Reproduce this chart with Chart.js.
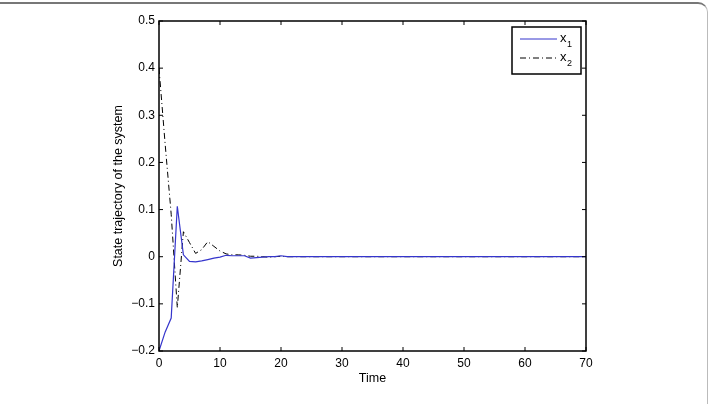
<!DOCTYPE html>
<html>
<head>
<meta charset="utf-8">
<script src="https://cdn.jsdelivr.net/npm/chart.js@4"></script>
<style>
  html, body { margin: 0; padding: 0; background: #fff; }
  #wrap { position: relative; width: 711px; height: 404px; }
  #frame { position: absolute; left: -4px; top: 2px; width: 712px; height: 420px;
           border-top: 2px solid #777; border-right: 1px solid #bbb;
           border-top-right-radius: 10px; box-sizing: border-box; pointer-events: none; }
</style>
</head>
<body>
<div id="wrap">
  <canvas id="myChart" width="711" height="404"></canvas>
  <div id="frame"></div>
</div>
<script>
const times = [0, 1, 2, 3, 4, 5, 6, 7, 8, 9, 10, 11, 12, 13, 14, 15, 16, 17, 18, 19, 20, 21, 25, 30, 35, 40, 45, 50, 55, 60, 65, 70];
const x1 = [-0.2, -0.16, -0.13, 0.107, 0.004, -0.01, -0.011, -0.009, -0.006, -0.003, -0.001, 0.003, 0.002, 0.002, 0.002, -0.003, -0.002, -0.001, 0, 0, 0.002, 0, 0, 0, 0, 0, 0, 0, 0, 0, 0, 0];
const x2 = [0.4, 0.24, 0.09, -0.108, 0.053, 0.03, 0.007, 0.015, 0.032, 0.022, 0.012, 0.006, 0.004, 0.004, 0.003, 0.001, 0.001, 0, -0.001, 0, 0.001, 0, 0, 0, 0, 0, 0, 0, 0, 0, 0, 0];
const seriesNames = ["x1", "x2"];
const xTicks = [0, 10, 20, 30, 40, 50, 60, 70];
const yTicks = [-0.2, -0.1, 0, 0.1, 0.2, 0.3, 0.4, 0.5];

const FONT = "'Liberation Sans', Arial, Helvetica, sans-serif";

function toPoints(vals) {
  return times.map((t, i) => ({ x: t, y: vals[i] }));
}

// matlab style box, inward ticks and legend
const matlabBox = {
  id: "matlabBox",
  afterDraw(chart) {
    const ctx = chart.ctx;
    const a = chart.chartArea;
    const xs = chart.scales.x, ys = chart.scales.y;
    ctx.save();
    ctx.strokeStyle = "#000";
    ctx.lineWidth = 1.5;
    ctx.strokeRect(a.left, a.top, a.right - a.left, a.bottom - a.top);
    ctx.lineWidth = 1;
    const tl = 4;
    ctx.beginPath();
    xTicks.forEach(v => {
      const p = xs.getPixelForValue(v);
      ctx.moveTo(p, a.bottom); ctx.lineTo(p, a.bottom - tl);
      ctx.moveTo(p, a.top); ctx.lineTo(p, a.top + tl);
    });
    yTicks.forEach(v => {
      const p = ys.getPixelForValue(v);
      ctx.moveTo(a.left, p); ctx.lineTo(a.left + tl, p);
      ctx.moveTo(a.right, p); ctx.lineTo(a.right - tl, p);
    });
    ctx.stroke();

    // legend
    const lx = 512, ly = 27, lw = 69, lh = 47;
    ctx.fillStyle = "#fff";
    ctx.fillRect(lx, ly, lw, lh);
    ctx.lineWidth = 1.5;
    ctx.strokeStyle = "#000";
    ctx.strokeRect(lx, ly, lw, lh);
    chart.data.datasets.forEach((ds, i) => {
      const y = ly + 12 + i * 19;
      ctx.beginPath();
      ctx.strokeStyle = ds.borderColor;
      ctx.lineWidth = 1;
      ctx.setLineDash(ds.borderDash || []);
      ctx.moveTo(lx + 8, y); ctx.lineTo(lx + 45, y);
      ctx.stroke();
      ctx.setLineDash([]);
      ctx.fillStyle = "#000";
      ctx.textBaseline = "alphabetic";
      ctx.textAlign = "left";
      ctx.font = "13px " + FONT;
      ctx.fillText(ds.label.charAt(0), lx + 48, y + 3);
      ctx.font = "9px " + FONT;
      ctx.fillText(ds.label.slice(1), lx + 55, y + 8);
    });
    ctx.restore();
  }
};

const config = {
  type: "line",
  data: {
    datasets: [
      {
        label: seriesNames[0],
        data: toPoints(x1),
        borderColor: "#3535cc",
        borderWidth: 1.2,
        pointRadius: 0,
        tension: 0,
      },
      {
        label: seriesNames[1],
        data: toPoints(x2),
        borderColor: "#000",
        borderWidth: 1,
        borderDash: [6, 3, 1, 3],
        pointRadius: 0,
        tension: 0,
      },
    ],
  },
  options: {
    responsive: false,
    animation: false,
    layout: { padding: { left: 104, right: 125, top: 21, bottom: 14 } },
    plugins: {
      legend: { display: false },
      tooltip: { enabled: false },
    },
    scales: {
      x: {
        type: "linear",
        min: 0,
        max: 70,
        afterBuildTicks: s => { s.ticks = xTicks.map(v => ({ value: v })); },
        afterFit: s => { s.height = 39; },
        grid: { display: false, drawTicks: false },
        border: { display: false },
        ticks: { color: "#000", padding: 5, font: { family: FONT, size: 12 } },
        title: { display: true, text: "Time", color: "#000", padding: { top: 0, bottom: 4 }, font: { family: FONT, size: 12.5 } },
      },
      y: {
        min: -0.2,
        max: 0.5,
        afterBuildTicks: s => { s.ticks = yTicks.map(v => ({ value: v })); },
        afterFit: s => { s.width = 55; },
        grid: { display: false, drawTicks: false },
        border: { display: false },
        ticks: {
          color: "#000",
          padding: 4,
          font: { family: FONT, size: 12 },
          callback: v => (v < 0 ? "\u2212" : "") + Math.abs(Math.round(v * 10) / 10),
        },
        title: { display: true, text: "State trajectory of the system", color: "#000", padding: 7, font: { family: FONT, size: 12.5 } },
      },
    },
  },
  plugins: [matlabBox],
};

const myChart = new Chart(document.getElementById("myChart"), config);
</script>
</body>
</html>
